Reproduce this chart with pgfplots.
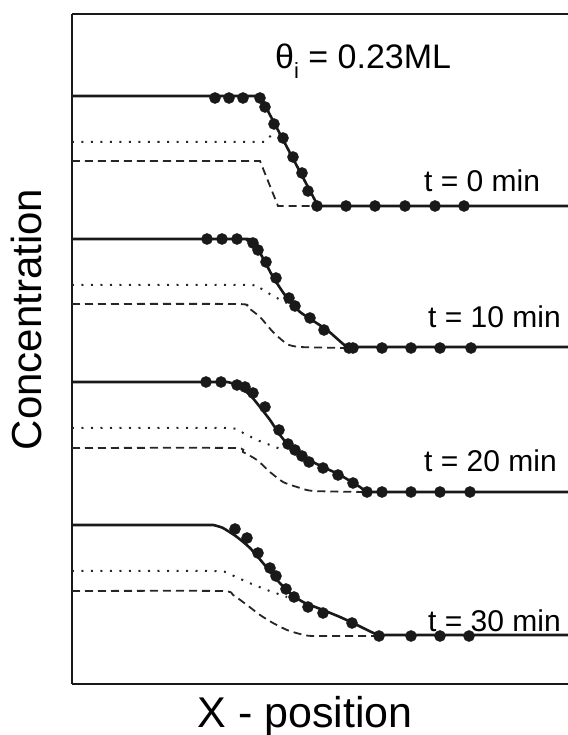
\documentclass[border=0pt]{standalone}
\usepackage{fontspec}
\setmainfont{Liberation Sans}
\usepackage{pgfplots}
\pgfplotsset{compat=1.18}

\newcommand{\ylfont}{\fontsize{42bp}{50bp}\selectfont}
\newcommand{\xlfont}{\fontsize{43bp}{50bp}\selectfont}
\newcommand{\lblfont}{\fontsize{30bp}{36bp}\selectfont}
\newcommand{\thfont}{\fontsize{34bp}{40bp}\selectfont}

\begin{document}
\begin{tikzpicture}
\begin{axis}[
  scale only axis,
  width=496bp, height=670bp,
  xmin=0, xmax=496, ymin=0, ymax=670,
  xtick=\empty, ytick=\empty,
  axis x line*=box, axis y line*=left,
  axis line style={line width=2bp, black!90},
  clip=false,
  xlabel={X - position},
  ylabel={Concentration},
  every axis x label/.style={at={(rel axis cs:0.47,-0.0642)}, anchor=base, inner sep=0pt, font=\xlfont},
  every axis y label/.style={at={(rel axis cs:-0.0605,0.544)}, rotate=90, anchor=base, inner sep=0pt, font=\ylfont},
  fit/.style={line width=2.6bp, black!90},
  dotline/.style={line width=2bp, black!85, dash pattern=on 2bp off 7.5bp},
  dashline/.style={line width=1.8bp, black!85, dash pattern=on 8bp off 5bp},
  pts/.style={only marks, mark=*, mark size=5.6pt, mark options={fill=black!90, draw=black!90}},
]
\coordinate (SW) at (rel axis cs:0,0);

% ---- t = 0 min ----
\addplot[dashline] coordinates {(0,523) (188,523) (206,478) (246,478)};
\addplot[dotline] coordinates {(0,542) (193,542) (202,552)};
\addplot[fit] coordinates {(0,588) (188,588) (246,478) (496,478)};
\addplot[pts] coordinates {(143,586) (157,586) (171,586) (188,586) (193,577) (202,560)
  (211,546) (221,527) (230,511) (236,493) (245,478) (274,478) (303,478) (333,478) (363,478) (392,478)};

% ---- t = 10 min ----
\addplot[dashline, smooth, tension=0.35] coordinates {(0,380) (165,380) (175,377) (188,367) (201,352) (215,340) (228,337) (275,336)};
\addplot[dotline, smooth, tension=0.35] coordinates {(0,399) (175,399) (188,396) (201,388) (215,381)};
\addplot[fit, smooth, tension=0.35] coordinates {(0,445) (165,445) (175,444) (188,431) (201,407) (215,386) (228,372) (255,354) (275,337) (285,337) (496,337)};
\addplot[pts] coordinates {(135,445) (150,445) (165,445) (181,441) (186,434) (194,422) (204,406)
  (217,386) (223,378) (238,366) (252,354) (277,336) (281,336) (310,336) (339,336) (368,336) (399,336)};

% ---- t = 20 min ----
\addplot[dashline, smooth, tension=0.35] coordinates {(0,236) (161,236) (171,232) (185,224) (198,212) (211,202) (225,197) (241,193) (295,192)};
\addplot[dotline, smooth, tension=0.35] coordinates {(0,256) (155,256) (171,251) (185,244) (198,239) (211,234)};
\addplot[fit, smooth, tension=0.35] coordinates {(0,302) (145,302) (155,302) (165,299) (178,289) (188,277) (198,264) (208,249) (218,237) (231,227) (251,217) (268,209) (288,197) (295,192) (305,192) (496,192)};
\addplot[pts] coordinates {(134,302) (149,302) (165,299) (173,297) (181,291) (193,277) (207,254)
  (216,240) (223,234) (230,228) (237,222) (251,216) (266,209) (281,201) (295,192) (310,192) (339,192) (368,192) (398,192)};

% ---- t = 30 min ----
\addplot[dashline, smooth, tension=0.35] coordinates {(0,93) (148,93) (161,89) (175,79) (188,69) (201,61) (215,54) (228,50) (241,48) (306,48)};
\addplot[dotline, smooth, tension=0.35] coordinates {(0,113) (141,113) (155,111) (175,102) (195,94) (215,87)};
\addplot[fit, smooth, tension=0.35] coordinates {(0,159) (133,159) (141,159) (151,156) (165,147) (178,136) (191,121) (205,104) (218,91) (231,82) (251,74) (268,67) (281,61) (306,49) (316,49) (496,49)};
\addplot[pts] coordinates {(163,155) (175,146) (186,131) (198,116) (204,108) (214,95) (222,87)
  (236,77) (251,71) (280,61) (307,48) (339,48) (368,48) (397,48)};

% ---- labels ----
\node[anchor=base west, inner sep=0pt, font=\thfont] at (axis cs:203,615)
  {θ\raisebox{-0.28em}{\fontsize{22bp}{22bp}\selectfont i} = 0.23ML};
\node[anchor=base west, inner sep=0pt, font=\lblfont] at (axis cs:352,492) {t = 0 min};
\node[anchor=base west, inner sep=0pt, font=\lblfont] at (axis cs:356,356) {t = 10 min};
\node[anchor=base west, inner sep=0pt, font=\lblfont] at (axis cs:352,212) {t = 20 min};
\node[anchor=base west, inner sep=0pt, font=\lblfont] at (axis cs:356,52) {t = 30 min};
\end{axis}
\pgfresetboundingbox
\path[use as bounding box] ([shift={(-72bp,-51bp)}]SW) rectangle ([shift={(496bp,684bp)}]SW);
\end{tikzpicture}
\end{document}
